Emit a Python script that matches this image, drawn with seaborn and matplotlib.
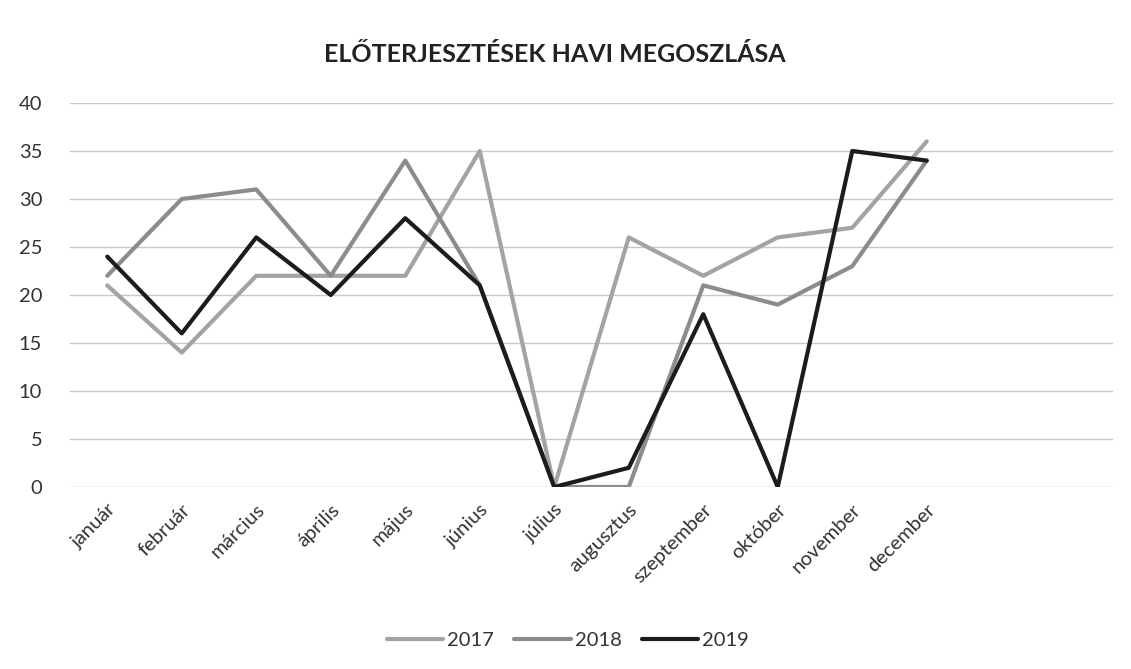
import pandas as pd
import seaborn as sns
import matplotlib.pyplot as plt

months = ['január', 'február', 'március', 'április', 'május', 'június',
          'július', 'augusztus', 'szeptember', 'október', 'november', 'december']
y2017 = [21, 14, 22, 22, 22, 35, 0, 26, 22, 26, 27, 36]
y2018 = [22, 30, 31, 22, 34, 21, 0, 0, 21, 19, 23, 34]
y2019 = [24, 16, 26, 20, 28, 21, 0, 2, 18, 0, 35, 34]

rows = []
for year, vals in [('2017', y2017), ('2018', y2018), ('2019', y2019)]:
    for i, v in enumerate(vals):
        rows.append({'month': i, 'count': v, 'year': year})
df = pd.DataFrame(rows)

sns.set_style("white")
plt.rcParams['font.family'] = ['Lato', 'DejaVu Sans']

fig = plt.figure(figsize=(11.31, 6.69), dpi=100)
ax = fig.add_axes([70 / 1131, 182 / 669, (1113 - 70) / 1131, 384 / 669])

palette = {'2017': '#a3a3a3', '2018': '#8c8c8c', '2019': '#1c1c1c'}
sns.lineplot(data=df, x='month', y='count', hue='year', palette=palette,
             linewidth=3, ax=ax, legend=True)

ax.set_xlim(-0.5, 13.5)
ax.set_ylim(0, 40)
ax.set_yticks(range(0, 41, 5))
ax.yaxis.grid(True, color='#c8c8c8', linewidth=1)
for s in ax.spines.values():
    s.set_visible(False)
ax.tick_params(axis='y', labelsize=14.5, labelcolor='#333333', pad=20, length=0)
ax.set_xticks(range(len(months)))
ax.set_xticklabels(months, rotation=45, ha='right', rotation_mode='anchor',
                   fontsize=14.5, color='#333333')
ax.tick_params(axis='x', length=0, pad=10)
ax.set_xlabel('')
ax.set_ylabel('')

fig.text(555 / 1131, 1 - 55 / 669, 'ELŐTERJESZTÉSEK HAVI MEGOSZLÁSA',
         ha='center', va='center', fontsize=18, fontweight='bold', color='#222222')

handles, labels = ax.get_legend_handles_labels()
ax.legend(handles, labels, loc='center', bbox_to_anchor=(568 / 1131, 1 - 640 / 669),
          bbox_transform=fig.transFigure, ncol=3, frameon=False, fontsize=14.5,
          handlelength=2.8, columnspacing=1.0, handletextpad=0.2,
          labelcolor='#333333')

plt.savefig('out.png', dpi=100)
plt.close()
